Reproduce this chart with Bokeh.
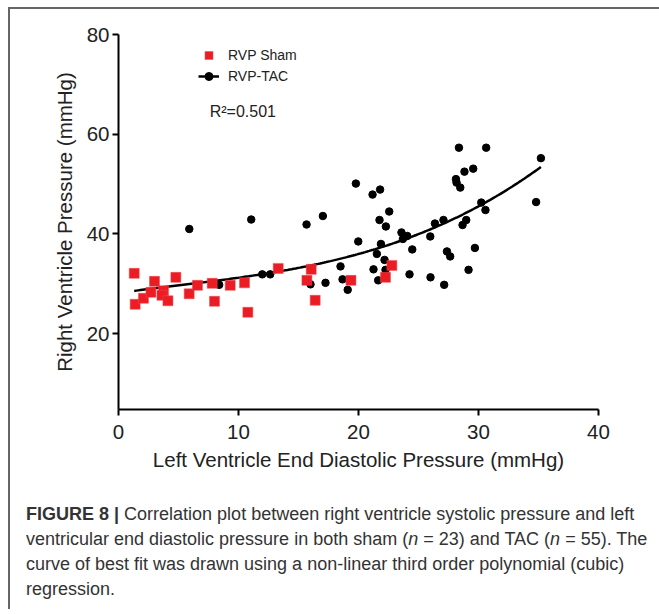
import numpy as np
from bokeh.plotting import figure
from bokeh.models import Range1d, FixedTicker, Legend, LegendItem, Label, Div
from bokeh.layouts import column
from bokeh.embed import file_html
from bokeh.resources import INLINE

# ---- data ----
sham_x = [1.31, 1.39, 2.08, 3.0, 2.7, 3.75, 3.62, 4.12, 4.78, 5.89, 6.58, 7.81,
          8.0, 9.31, 10.5, 10.78, 13.31, 15.7, 16.06, 16.39, 19.37, 22.25, 22.78]
sham_y = [32.1, 25.9, 27.1, 30.5, 28.3, 28.6, 27.7, 26.6, 31.3, 28.0, 29.7, 30.1,
          26.5, 29.7, 30.2, 24.3, 33.1, 30.7, 32.9, 26.7, 30.7, 31.3, 33.7]

tac_x = [5.9, 8.39, 11.06, 11.98, 12.64, 15.67, 16.0, 17.03, 17.25, 18.5, 18.67,
         19.1, 19.78, 19.98, 21.17, 21.8, 21.75, 22.28, 22.56, 21.87, 21.53, 22.17,
         21.25, 22.25, 21.64, 23.58, 24.06, 23.7, 24.48, 24.25, 25.98, 26.0, 26.37,
         27.08, 27.37, 27.64, 27.14, 28.12, 28.17, 28.48, 28.37, 28.83, 29.56, 30.64,
         28.98, 28.67, 29.7, 29.17, 30.23, 30.58, 34.8, 35.2]
tac_y = [41.0, 29.8, 42.9, 31.9, 31.9, 41.9, 29.9, 43.6, 30.2, 33.5, 30.9,
         28.8, 50.1, 38.5, 47.9, 48.9, 42.8, 41.5, 44.5, 38.0, 36.0, 34.8,
         32.9, 32.8, 30.7, 40.3, 39.6, 39.0, 36.9, 31.9, 39.5, 31.3, 42.1,
         42.8, 36.5, 35.5, 29.8, 51.0, 50.3, 49.3, 57.3, 52.5, 53.1, 57.3,
         42.8, 41.8, 37.2, 32.8, 46.3, 44.8, 46.4, 55.2]

x_ticks = [0, 10, 20, 30, 40]
y_ticks = [20, 40, 60, 80]

FONT = "Liberation Sans"

p = figure(frame_width=480, frame_height=375,
           x_range=Range1d(0, 40), y_range=Range1d(4.8, 80),
           output_backend="svg", toolbar_location=None,
           min_border_left=108, min_border_right=53,
           min_border_top=25, min_border_bottom=72)
p.outline_line_color = None
p.grid.visible = False
p.background_fill_color = "white"
p.border_fill_color = "white"

for ax in (p.xaxis[0], p.yaxis[0]):
    ax.axis_line_width = 2
    ax.axis_line_color = "black"
    ax.major_tick_line_width = 2
    ax.major_tick_line_color = "black"
    ax.major_tick_out = 6
    ax.major_tick_in = 0
    ax.minor_tick_line_color = None
    ax.major_label_text_font = FONT
    ax.major_label_text_font_size = "20.5px"
    ax.major_label_text_color = "#222222"
    ax.axis_label_text_font = FONT
    ax.axis_label_text_font_size = "20.5px"
    ax.axis_label_text_font_style = "normal"
    ax.axis_label_text_color = "#222222"

p.xaxis[0].ticker = FixedTicker(ticks=x_ticks)
p.yaxis[0].ticker = FixedTicker(ticks=y_ticks)
p.xaxis[0].major_label_standoff = 9
p.yaxis[0].major_label_standoff = 3
p.xaxis[0].axis_label = "Left Ventricle End Diastolic Pressure (mmHg)"
p.yaxis[0].axis_label = "Right Ventricle Pressure (mmHg)"
p.xaxis[0].axis_label_standoff = 6
p.yaxis[0].axis_label_standoff = 8

# cubic regression of the combined data
all_x = np.array(sham_x + tac_x)
all_y = np.array(sham_y + tac_y)
coef = np.polyfit(all_x, all_y, 3)
fit_x = np.linspace(all_x.min(), all_x.max(), 200)
fit_y = np.polyval(coef, fit_x)

curve = p.line(fit_x, fit_y, line_color="black", line_width=2.5)
tac = p.scatter(tac_x, tac_y, marker="circle", size=7.5,
                fill_color="black", line_color="black")
sham = p.scatter(sham_x, sham_y, marker="square", size=10,
                 fill_color="#ec1c24", line_color="#f04a50", line_width=0.5)

legend = Legend(items=[LegendItem(label="RVP Sham", renderers=[sham]),
                       LegendItem(label="RVP-TAC", renderers=[curve, tac])],
                location=(80, 323), orientation="vertical",
                glyph_width=21, glyph_height=20, label_height=20,
                label_standoff=9, spacing=1, padding=0, margin=0,
                label_text_font=FONT, label_text_font_size="14px",
                label_text_color="#222222",
                border_line_alpha=0, background_fill_alpha=0)
p.add_layout(legend)

p.add_layout(Label(x=7.6, y=64.6, text="R²=0.501", text_font=FONT,
                   text_font_size="16px", text_baseline="middle",
                   text_color="#222222"))

caption_html = (
    '<div style="font-family:\'Liberation Sans\',Arial,sans-serif;font-size:18px;'
    'line-height:25px;color:#333333;white-space:nowrap;padding-left:11px;padding-top:16px;">'
    '<b>FIGURE 8 |</b> Correlation plot between right ventricle systolic pressure and left<br>'
    'ventricular end diastolic pressure in both sham (<i>n</i> = 23) and TAC (<i>n</i> = 55). The<br>'
    'curve of best fit was drawn using a non-linear third order polynomial (cubic)<br>'
    'regression.</div>'
)
caption = Div(text=caption_html, width=641, height=118)

layout = column(p, caption,
                styles={"margin-left": "8px", "margin-top": "7px",
                        "border-top": "2px solid #666666",
                        "border-left": "2px solid #666666"})

open("out.html", "w").write(file_html(layout, INLINE))
